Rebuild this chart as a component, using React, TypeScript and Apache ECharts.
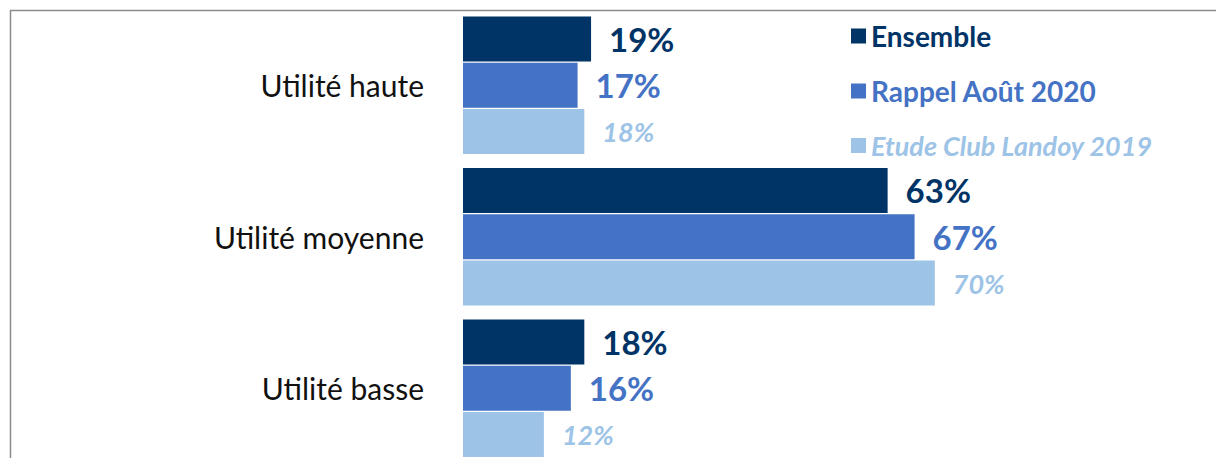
import React, { useEffect, useRef } from "react";
import * as echarts from "echarts";

const categories = ["Utilité haute", "Utilité moyenne", "Utilité basse"];
const seriesNames = ["Ensemble", "Rappel Août 2020", "Etude Club Landoy 2019"];
const ensemble = [19, 63, 18];
const rappel = [17, 67, 16];
const etude = [18, 70, 12];
const colors = ["#003366", "#4472C4", "#9DC3E6"];

const FONT = "Lato";

export default function App() {
  const ref = useRef<HTMLDivElement>(null);
  useEffect(() => {
    if (!ref.current) return;
    const chart = echarts.init(ref.current, undefined, { renderer: "svg" });
    const values = [ensemble, rappel, etude];
    const labelStyles = [
      { fontSize: 33, fontWeight: "bold", fontStyle: "normal" },
      { fontSize: 33, fontWeight: "bold", fontStyle: "normal" },
      { fontSize: 27, fontWeight: "bold", fontStyle: "italic" },
    ];
    chart.setOption({
      animation: false,
      grid: { left: 463, top: 9.5, width: 674, height: 454.5 },
      xAxis: { type: "value", min: 0, max: 100, show: false },
      yAxis: {
        type: "category",
        data: categories,
        inverse: true,
        axisLine: { show: false },
        axisTick: { show: false },
        axisLabel: { margin: 39, fontSize: 30, color: "#111", fontFamily: FONT },
      },
      legend: {
        orient: "vertical",
        left: 846,
        top: 17,
        icon: "rect",
        itemWidth: 15,
        itemHeight: 15,
        itemGap: 27,
        data: seriesNames.map((n, i) => ({
          name: n,
          textStyle: {
            color: colors[i],
            fontWeight: "bold",
            fontStyle: i === 2 ? "italic" : "normal",
            fontSize: i === 2 ? 27 : 28,
            fontFamily: FONT,
            lineHeight: 26,
          },
        })),
        selectedMode: false,
      },
      graphic: [
        {
          type: "rect",
          shape: { x: 10.5, y: 10.5, width: 1300, height: 600 },
          style: { fill: "none", stroke: "#8c8c8c", lineWidth: 1.5 },
          silent: true,
        },
      ],
      series: seriesNames.map((n, i) => ({
        name: n,
        type: "bar",
        data: values[i],
        barWidth: 45,
        barGap: "3%",
        itemStyle: { color: colors[i] },
        label: {
          show: true,
          position: "right",
          distance: 18,
          formatter: "{c}%",
          color: colors[i],
          fontFamily: FONT,
          ...labelStyles[i],
        },
      })),
    });
    return () => chart.dispose();
  }, []);
  return (
    <div
      style={{ position: "fixed", left: 0, top: 0, width: 1216, height: 458, overflow: "hidden", background: "#fff" }}
    >
      <div ref={ref} style={{ width: 1216, height: 480 }} />
    </div>
  );
}
